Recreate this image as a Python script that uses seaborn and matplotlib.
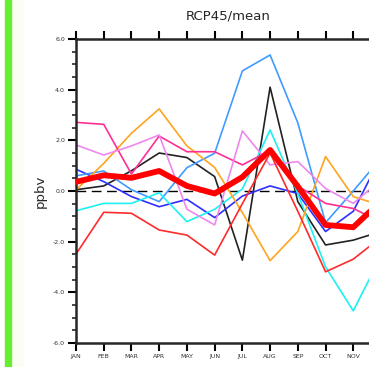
import numpy as np
import pandas as pd
import matplotlib
matplotlib.use("Agg")
import matplotlib.pyplot as plt
import seaborn as sns
from matplotlib.patches import Rectangle

months = ["JAN", "FEB", "MAR", "APR", "MAY", "JUN", "JUL", "AUG", "SEP", "OCT", "NOV", "DEC"]

# ensemble members (ppbv)
black = [0.05, 0.2, 0.8, 1.5, 1.32, 0.57, -2.73, 4.1, -0.42, -2.13, -1.94, -1.6]
blue = [0.86, 0.37, -0.22, -0.62, -0.33, -1.05, -0.2, 0.2, -0.1, -1.6, -0.8, 1.36]
dodgerblue = [0.6, 0.79, 0.05, -0.42, 0.92, 1.49, 4.74, 5.37, 2.69, -1.25, 0.0, 1.3]
cyan = [-0.78, -0.49, -0.49, -0.07, -1.21, -0.72, 0.08, 2.41, -0.1, -3.0, -4.73, -2.57]
orange = [0.04, 1.09, 2.28, 3.24, 1.78, 0.93, -0.85, -2.75, -1.6, 1.36, -0.22, -0.57]
hotpink = [2.71, 2.63, 0.67, 2.17, 1.55, 1.55, 1.03, 1.6, 0.2, -0.49, -0.69, -1.23]
violet = [1.82, 1.42, 1.78, 2.21, -0.72, -1.34, 2.37, 1.03, 1.16, 0.1, -0.49, 0.44]
red = [-2.49, -0.84, -0.88, -1.54, -1.74, -2.53, -0.5, 1.5, -0.8, -3.19, -2.69, -1.83]

ens_mean = [0.36, 0.62, 0.52, 0.79, 0.2, -0.1, 0.55, 1.62, 0.18, -1.34, -1.43, -0.4]

members = {
    "black": black, "blue": blue, "dodgerblue": dodgerblue, "cyan": cyan,
    "orange": orange, "hotpink": hotpink, "violet": violet, "red": red,
}
palette = {
    "black": "#222222", "blue": "#2e2eff", "dodgerblue": "#3f9bff", "cyan": "#1ff0f0",
    "orange": "#ffa41f", "hotpink": "#ff2e95", "violet": "#ee88ee", "red": "#ff2a2a",
}

rows = []
for name, vals in members.items():
    for i, v in enumerate(vals):
        rows.append({"month": i, "ppbv": v, "model": name})
df = pd.DataFrame(rows)
df_mean = pd.DataFrame({"month": range(len(months)), "ppbv": ens_mean})

sns.set_style("ticks")
plt.rcParams["font.family"] = ["DejaVu Sans"]

fig = plt.figure(figsize=(3.69, 3.67), dpi=100)
fig.patches.append(Rectangle((11 / 369, 0), 12 / 369, 1, transform=fig.transFigure,
                             color="#fdfdf3", zorder=0))
fig.patches.append(Rectangle((5 / 369, 0), 6 / 369, 1, transform=fig.transFigure,
                             color="#66ee33", zorder=1))

# axes runs past the right edge, DEC falls outside the picture as in the reference
ax = fig.add_axes([76 / 369, 1 - 343 / 367, 305 / 369, 304 / 367])

sns.lineplot(data=df, x="month", y="ppbv", hue="model", palette=palette,
             linewidth=1.2, legend=False, ax=ax)
ax.axhline(0, color="black", linewidth=1.0, linestyle=(0, (7, 4)), zorder=1)
sns.lineplot(data=df_mean, x="month", y="ppbv", color="#ff0000",
             linewidth=4.2, ax=ax, zorder=5)

ax.set_xlim(0, 11)
ax.set_ylim(-6, 6)
ax.set_xticks(range(len(months)))
ax.set_xticklabels(months[:-1] + [""], fontsize=4.5)
ax.set_yticks(np.arange(-6, 6.1, 2))
ax.set_yticklabels([f"{v:.1f}" for v in np.arange(-6, 6.1, 2)], fontsize=4.5)
ax.set_yticks(np.arange(-6, 6.1, 0.5), minor=True)
ax.tick_params(axis="both", which="major", direction="out", length=6, width=1.5,
               pad=2, colors="black", labelcolor="#333333")
ax.tick_params(axis="y", which="minor", direction="out", length=3, width=1.2)
ax.tick_params(axis="x", top=True, labeltop=False)
for s in ax.spines.values():
    s.set_linewidth(1.8)

ax.set_xlabel("")
ax.set_ylabel("ppbv", fontsize=9.5, labelpad=4)
ax.set_title("RCP45/mean", fontsize=9.5, pad=14)

plt.savefig("out.png", dpi=100)
plt.close()
